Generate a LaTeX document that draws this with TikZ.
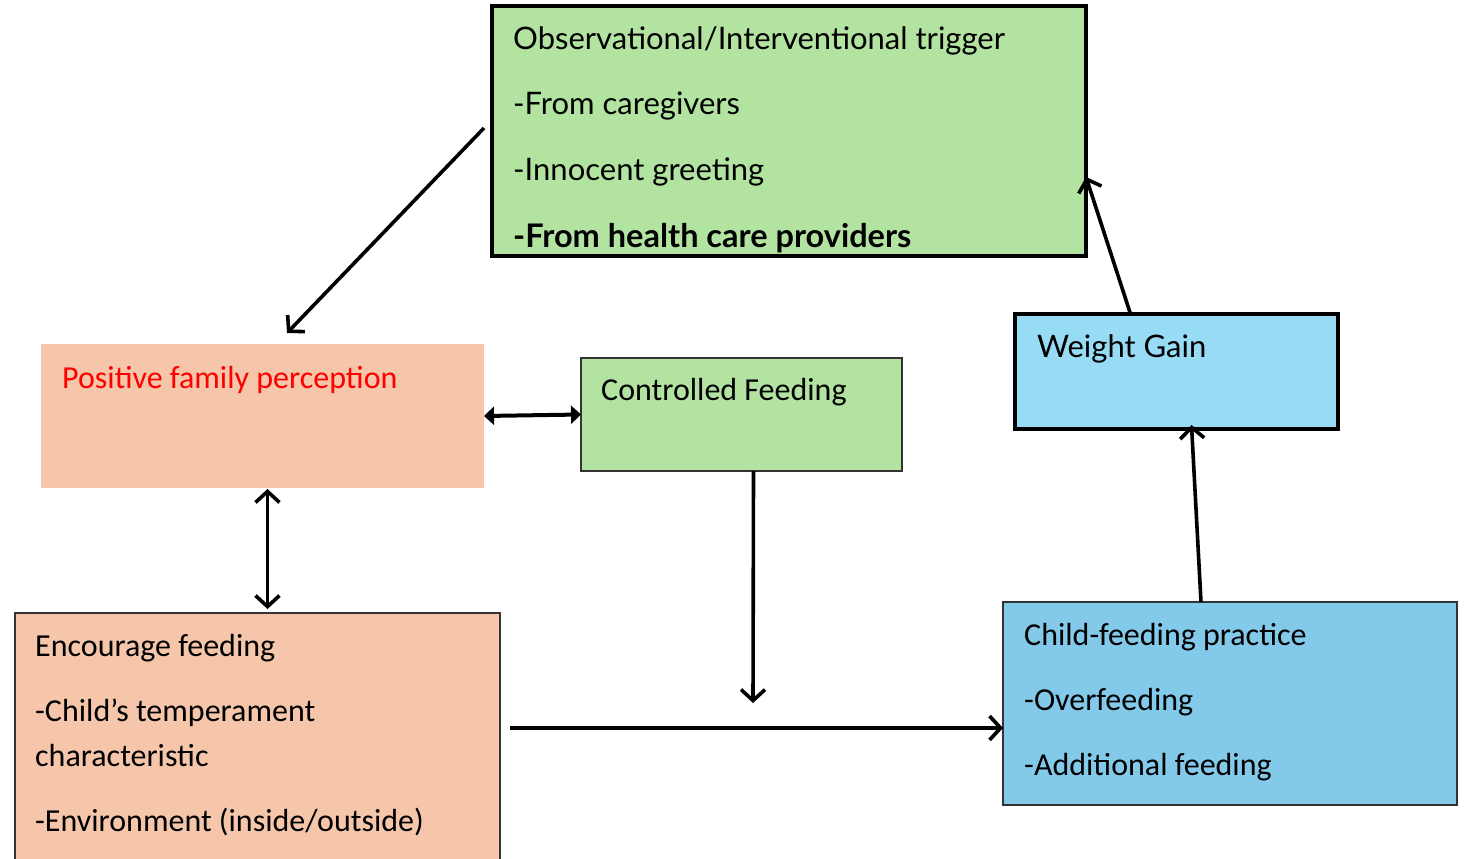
\documentclass[tikz,border=0pt]{standalone}
\usepackage{fontspec}
\setmainfont{Carlito}
\newfontfamily\aptos{Lato}
\usetikzlibrary{arrows.meta,calc}
\definecolor{grn}{HTML}{B3E3A1}
\definecolor{peach}{HTML}{F5C6AA}
\definecolor{wgblue}{HTML}{97DBF5}
\definecolor{cfblue}{HTML}{83CAEA}
\definecolor{thinline}{HTML}{333333}
\begin{document}
\begin{tikzpicture}[x=1pt,y=-1pt,
  box/.style={rectangle,anchor=north west,inner sep=0pt,outer sep=0pt},
  thickbox/.style={box,draw=black,line width=3.2pt},
  thinbox/.style={box,draw=thinline,line width=1.3pt},
  txt/.style={anchor=base west,inner sep=0pt,font=\fontsize{32}{38}\selectfont},
  atxt/.style={anchor=base west,inner sep=0pt,font=\aptos\fontsize{31}{37}\selectfont},
  arr/.style={line width=3.6pt,-{Straight Barb[length=11pt,width=24pt]}},
  darr/.style={line width=3.6pt,{Straight Barb[length=11pt,width=24pt]}-{Straight Barb[length=11pt,width=24pt]}},
  farr/.style={line width=4pt,{Triangle[length=10pt,width=18pt]}-{Triangle[length=10pt,width=18pt]}}]
\useasboundingbox (0,0) rectangle (1465,859);
% boxes
\node[thickbox,fill=grn,minimum width=594pt,minimum height=250pt] (trig) at (492,6) {};
\node[box,fill=peach,minimum width=443pt,minimum height=144pt] (pfp) at (41,344) {};
\node[thinbox,fill=grn,minimum width=321pt,minimum height=113pt] (cf) at (581,358) {};
\node[thinbox,fill=peach,minimum width=485pt,minimum height=270pt] (enc) at (15,613) {};
\node[thickbox,fill=wgblue,minimum width=323pt,minimum height=115pt] (wg) at (1015,314) {};
\node[thinbox,fill=cfblue,minimum width=454pt,minimum height=203pt] (cfp) at (1003,602) {};
% texts
\node[atxt] (t1) at (513,50) {Observational/Interventional trigger};
\node[atxt] (t2) at (513,114) {-From caregivers};
\node[atxt] (t3) at (513,180) {-Innocent greeting};
\node[atxt,font=\aptos\bfseries\fontsize{32.5}{38}\selectfont] (t4) at (513,247) {-From health care providers};
\node[txt,text=red] (tp) at (62,388) {Positive family perception};
\node[txt] (tc) at (601,400) {Controlled Feeding};
\node[txt] (e1) at (35,656) {Encourage feeding};
\node[txt] (e2) at (35,721) {-Child’s temperament};
\node[txt] (e3) at (35,766) {characteristic};
\node[txt] (e4) at (35,831) {-Environment (inside/outside)};
\node[atxt] (tw) at (1037,357) {Weight Gain};
\node[txt] (c1) at (1024,645) {Child-feeding practice};
\node[txt] (c2) at (1024,710) {-Overfeeding};
\node[txt] (c3) at (1024,775) {-Additional feeding};
% free ends
\coordinate (s1) at (484,128);
\coordinate (e1end) at (287,333);
\coordinate (cfend) at (753,703);
\coordinate (hstart) at (510,728);
% connectors
\draw[arr] (s1) -- (e1end);
\draw[farr] (pfp.east) -- (cf.west);
\draw[darr] ($(pfp.south)+(5,1)$) -- ($(enc.north)+(10,-4)$);
\draw[arr] ($(cf.south)+(12,0)$) -- (cfend);
\draw[arr] (hstart) -- ($(cfp.west)+(0,24.5)$);
\draw[arr] ($(cfp.north)+(-29,0)$) -- ($(wg.south)+(15,-4)$);
\draw[arr] ($(wg.north)+(-46,0)$) -- ($(trig.east)+(0,46)$);
\end{tikzpicture}
\end{document}
